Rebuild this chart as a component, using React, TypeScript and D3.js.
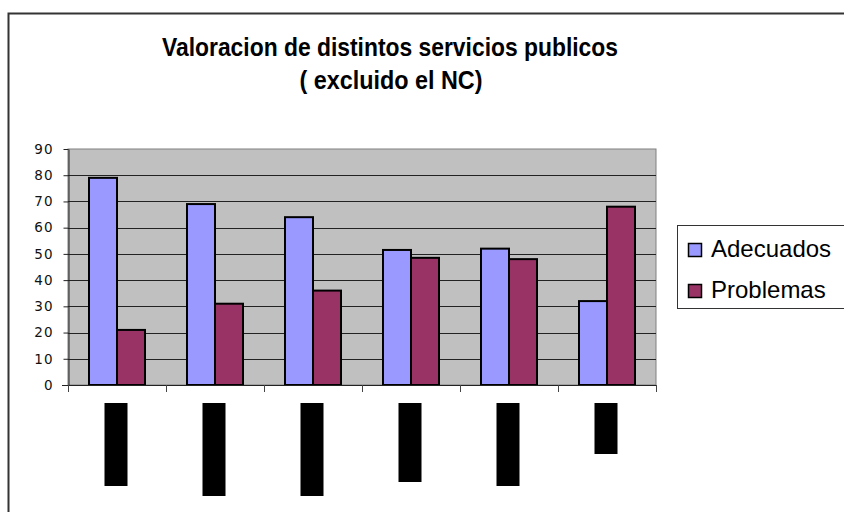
import React, { useEffect, useRef } from "react";
import * as d3 from "d3";

const categories = ["s1", "s2", "s3", "s4", "s5", "s6"];
const adecuados = [79, 69, 64, 51.5, 52, 32];
const problemas = [21, 31, 36, 48.5, 48, 68];
const seriesNames = ["Adecuados", "Problemas"];
const yTicks = [0, 10, 20, 30, 40, 50, 60, 70, 80, 90];
// category labels are blacked out in the source; length of each black box
const redactedLength = [83, 93, 93, 79, 83, 51];

const colors = ["#9999FF", "#993366"];

const App = () => {
  const ref = useRef<SVGSVGElement>(null);

  useEffect(() => {
    const svg = d3.select(ref.current);
    svg.selectAll("*").remove();

    const left = 68, right = 656, top = 149, bottom = 385;

    // outer chart frame
    svg.append("rect")
      .attr("x", 8.5).attr("y", 13.5)
      .attr("width", 860).attr("height", 520)
      .attr("fill", "white").attr("stroke", "#333").attr("stroke-width", 2);

    svg.append("text")
      .attr("x", 390).attr("y", 56)
      .attr("text-anchor", "middle")
      .attr("font-family", "Liberation Sans, Arial, sans-serif")
      .attr("font-weight", "bold").attr("font-size", 25)
      .attr("textLength", 456).attr("lengthAdjust", "spacingAndGlyphs")
      .text("Valoracion de distintos servicios publicos");
    svg.append("text")
      .attr("x", 391).attr("y", 89)
      .attr("text-anchor", "middle")
      .attr("font-family", "Liberation Sans, Arial, sans-serif")
      .attr("font-weight", "bold").attr("font-size", 25)
      .attr("textLength", 183).attr("lengthAdjust", "spacingAndGlyphs")
      .text("( excluido el NC)");

    const x = d3.scaleBand().domain(categories).range([left, right]);
    const y = d3.scaleLinear().domain([0, 90]).range([bottom, top]);
    const bw = x.bandwidth() * 2 / 7;
    const pad = x.bandwidth() * 1.5 / 7;

    svg.append("rect")
      .attr("x", left).attr("y", top)
      .attr("width", right - left).attr("height", bottom - top)
      .attr("fill", "#C0C0C0").attr("stroke", "#808080");

    const g = svg.append("g");
    g.selectAll("line.grid")
      .data(yTicks.filter((t) => t > 0 && t < 90))
      .join("line")
      .attr("x1", left).attr("x2", right)
      .attr("y1", (d) => Math.round(y(d)) + 0.5).attr("y2", (d) => Math.round(y(d)) + 0.5)
      .attr("stroke", "#222");

    const yAxis = svg.append("g")
      .attr("transform", `translate(${left + 0.5},0)`)
      .call(d3.axisLeft(y).tickValues(yTicks).tickSize(5).tickSizeOuter(0));
    yAxis.select(".domain").attr("stroke", "#222");
    yAxis.selectAll(".tick line").attr("stroke", "#222");
    yAxis.selectAll(".tick text")
      .attr("x", -15)
      .attr("font-family", "DejaVu Sans, Verdana, sans-serif")
      .attr("font-size", 13.5)
      .attr("letter-spacing", 1)
      .attr("fill", "#111");

    const series = [adecuados, problemas];
    series.forEach((vals, si) => {
      svg.append("g").selectAll("rect")
        .data(vals)
        .join("rect")
        .attr("x", (_, i) => (x(categories[i]) as number) + pad + si * bw)
        .attr("y", (d) => y(d))
        .attr("width", bw)
        .attr("height", (d) => bottom - y(d))
        .attr("fill", colors[si])
        .attr("stroke", "#000").attr("stroke-width", 2);
    });

    // x axis line and ticks at category boundaries
    svg.append("line")
      .attr("x1", left - 6).attr("x2", right)
      .attr("y1", bottom + 0.5).attr("y2", bottom + 0.5)
      .attr("stroke", "#222");
    const bounds = categories.map((c) => x(c) as number).concat([right]);
    svg.append("g").selectAll("line")
      .data(bounds)
      .join("line")
      .attr("x1", (d) => d + 0.5).attr("x2", (d) => d + 0.5)
      .attr("y1", bottom).attr("y2", bottom + 7)
      .attr("stroke", "#444");

    // redacted category labels
    svg.append("g").selectAll("rect")
      .data(redactedLength)
      .join("rect")
      .attr("x", (_, i) => (x(categories[i]) as number) + x.bandwidth() / 2 - 12.5)
      .attr("y", 403)
      .attr("width", 23)
      .attr("height", (d) => d)
      .attr("fill", "#000");

    // legend
    const lg = svg.append("g");
    lg.append("rect")
      .attr("x", 677.5).attr("y", 225.5)
      .attr("width", 200).attr("height", 83)
      .attr("fill", "white").attr("stroke", "#333");
    seriesNames.forEach((name, i) => {
      lg.append("rect")
        .attr("x", 688.5).attr("y", 243.5 + i * 41)
        .attr("width", 13).attr("height", 13)
        .attr("fill", colors[i]).attr("stroke", "#000").attr("stroke-width", 1.5);
      lg.append("text")
        .attr("x", 711).attr("y", 257 + i * 41)
        .attr("font-family", "Liberation Sans, Arial, sans-serif")
        .attr("font-size", 24)
        .text(name);
    });
  }, []);

  return (
    <svg
      ref={ref}
      width={844}
      height={512}
      style={{ position: "absolute", left: 0, top: 0, background: "white" }}
    />
  );
};

export default App;
